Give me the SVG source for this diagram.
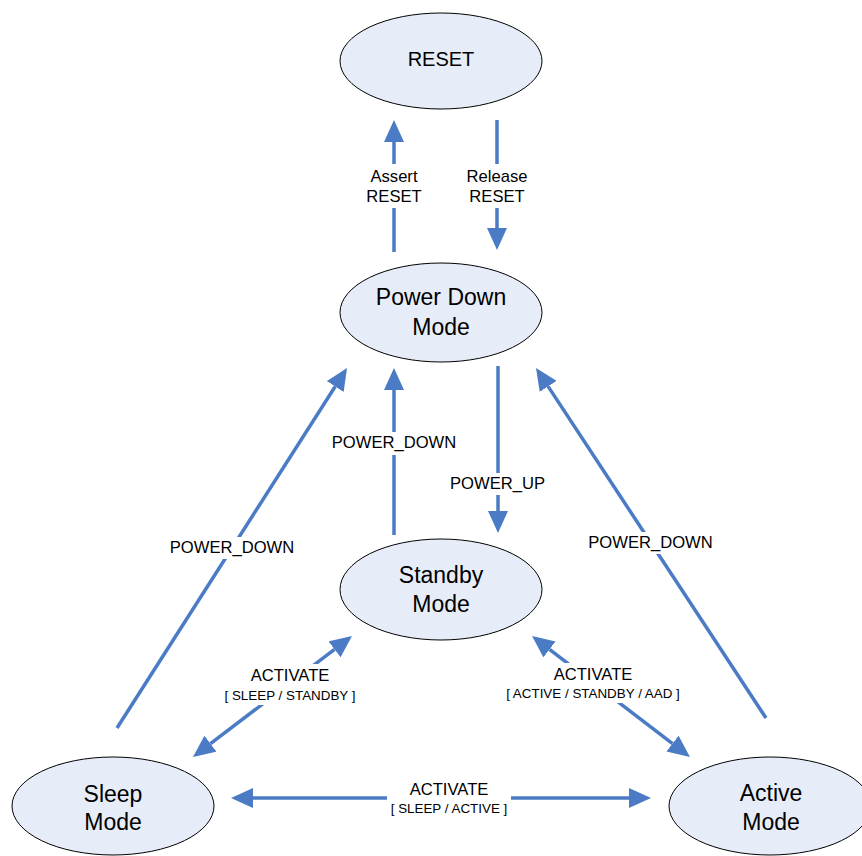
<svg xmlns="http://www.w3.org/2000/svg" width="862" height="856" viewBox="0 0 862 856">
<style>
.node ellipse{fill:#e7edf8;stroke:#000;stroke-width:1}
.nt{font-family:"Liberation Sans",Arial,sans-serif;font-size:23px;fill:#000;text-anchor:middle}
.conn path{fill:none;stroke:#4a7bc4;stroke-width:3.5}
.lbl rect{fill:#fff}
.lt{font-family:"Liberation Sans",Arial,sans-serif;font-size:16.6px;fill:#000;text-anchor:middle}
.ls{font-family:"Liberation Sans",Arial,sans-serif;font-size:13.4px;fill:#000;text-anchor:middle}
</style>
<defs>
<marker id="ah" markerUnits="userSpaceOnUse" markerWidth="22" markerHeight="20" refX="0" refY="10" orient="auto-start-reverse" viewBox="0 0 22 20">
<path d="M0,0 L22,10 L0,20 z" fill="#4a7bc4"/>
</marker>
</defs>
<rect width="862" height="856" fill="#fff"/>
<g id="connectors" class="conn">
<path d="M394,252 L394,142" marker-end="url(#ah)"/>
<path d="M497,120 L497,228" marker-end="url(#ah)"/>
<path d="M117,728 L335.2,386.5" marker-end="url(#ah)"/>
<path d="M394,535 L394,390" marker-end="url(#ah)"/>
<path d="M498,366 L498,511" marker-end="url(#ah)"/>
<path d="M766,718 L548.1,386.4" marker-end="url(#ah)"/>
<path d="M210.5,743.7 L334.5,649.3" marker-start="url(#ah)" marker-end="url(#ah)"/>
<path d="M549.5,649.4 L672.5,743.6" marker-start="url(#ah)" marker-end="url(#ah)"/>
<path d="M253,798 L629,798" marker-start="url(#ah)" marker-end="url(#ah)"/>
</g>
<g id="labels" class="lbl">
<g id="lbl-assert"><rect x="369" y="164" width="50" height="44"/><text class="lt" x="394" y="182">Assert</text><text class="lt" x="394" y="202">RESET</text></g>
<g id="lbl-release"><rect x="465" y="164" width="64" height="44"/><text class="lt" x="497" y="182">Release</text><text class="lt" x="497" y="202">RESET</text></g>
<g id="lbl-pd-center"><rect x="330" y="432" width="128" height="23"/><text class="lt" x="394" y="448">POWER_DOWN</text></g>
<g id="lbl-pu"><rect x="450" y="473" width="95" height="22"/><text class="lt" x="497.5" y="489">POWER_UP</text></g>
<g id="lbl-pd-left"><rect x="168" y="537" width="128" height="22"/><text class="lt" x="232" y="553">POWER_DOWN</text></g>
<g id="lbl-pd-right"><rect x="586" y="532" width="129" height="22"/><text class="lt" x="650.5" y="548">POWER_DOWN</text></g>
<g id="lbl-act-ss"><rect x="223" y="664" width="135" height="41"/><text class="lt" x="290" y="681">ACTIVATE</text><text class="ls" x="290" y="700">[ SLEEP / STANDBY ]</text></g>
<g id="lbl-act-as"><rect x="503" y="663" width="180" height="40"/><text class="lt" x="593" y="680">ACTIVATE</text><text class="ls" x="593" y="698">[ ACTIVE / STANDBY / AAD ]</text></g>
<g id="lbl-act-sa"><rect x="387" y="778" width="124" height="40"/><text class="lt" x="449" y="795">ACTIVATE</text><text class="ls" x="449" y="813">[ SLEEP / ACTIVE ]</text></g>
</g>
<g id="node-reset" class="node"><ellipse cx="441" cy="61" rx="101" ry="48"/><text class="nt" x="441" y="66" style="font-size:20px">RESET</text></g>
<g id="node-powerdown" class="node"><ellipse cx="441" cy="312.5" rx="101" ry="49.5"/><text class="nt" x="441" y="305">Power Down</text><text class="nt" x="441" y="335">Mode</text></g>
<g id="node-standby" class="node"><ellipse cx="441" cy="589.5" rx="101" ry="50.5"/><text class="nt" x="441" y="583">Standby</text><text class="nt" x="441" y="612">Mode</text></g>
<g id="node-sleep" class="node"><ellipse cx="113" cy="806" rx="101" ry="49"/><text class="nt" x="113" y="802">Sleep</text><text class="nt" x="113" y="830">Mode</text></g>
<g id="node-active" class="node"><ellipse cx="770" cy="806" rx="101" ry="49"/><text class="nt" x="771" y="801">Active</text><text class="nt" x="771" y="830">Mode</text></g>
</svg>
